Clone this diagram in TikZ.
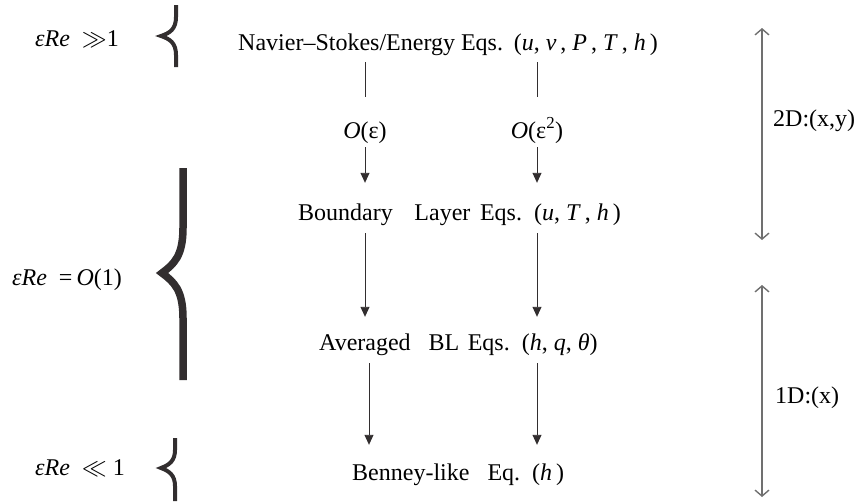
\documentclass[tikz,border=0pt]{standalone}
\usepackage{fontspec}
\setmainfont{Liberation Serif}
\usepackage{tikz}
\usetikzlibrary{arrows.meta,positioning,calc}
\definecolor{ink}{RGB}{50,46,47}
\definecolor{dimc}{RGB}{112,112,112}
\tikzset{
  eqn/.style={inner sep=0pt,anchor=base west,text height=16pt,text depth=5pt,
    font=\fontsize{24}{28}\selectfont,text=black},
  ord/.style={eqn,anchor=base},
  regime/.style={eqn},
  arr/.style={-{Triangle[length=10pt,width=9pt]},draw=ink,line width=0.9pt},
  seg/.style={draw=ink,line width=0.9pt},
  dim/.style={{Straight Barb[length=6pt,width=14pt,line width=1.4pt]}-{Straight Barb[length=6pt,width=14pt,line width=1.4pt]},
    draw=dimc,line width=1.4pt},
  brace/.style={draw=ink,line join=miter,line cap=butt},
}
\newcommand{\vi}[1]{\textit{#1}}
\begin{document}
\begin{tikzpicture}[x=1pt,y=-1pt]
  \useasboundingbox (0,0) rectangle (856,501);
  % equation levels
  \node[eqn] (NS) at (238,50)
    {Navier–Stokes/Energy Eqs.\hspace{0.45em}(\vi{u}, \vi{v}\,, \vi{P}\,, \vi{T}\,, \vi{h}\,)};
  \node[ord] (oeA) at (365,138) {\vi{O}(ε)};
  \node[ord] (oeB) at (537,138) {\vi{O}(ε\textsuperscript{2})};
  \node[eqn] (BL) at (298,220)
    {Boundary\hspace{0.9em}Layer\hspace{0.4em}Eqs.\hspace{0.5em}(\vi{u}, \vi{T}\,, \vi{h}\,)};
  \node[eqn] (ABL) at (319,350)
    {Averaged\hspace{0.75em}BL\hspace{0.35em}Eqs.\hspace{0.5em}(\vi{h}, \vi{q}, \vi{θ})};
  \node[eqn] (BEN) at (352,480) {Benney-like\hspace{0.75em}Eq.\hspace{0.5em}(\vi{h}\,)};
  % regimes
  \node[regime] (r1) at (35,46) {\vi{εRe}\ \ $\gg$1};
  \node[regime] (r2) at (12,285) {\vi{εRe}\ \ =\,\vi{O}(1)};
  \node[regime] (r3) at (35,475) {\vi{εRe}\ \ $\ll$ 1};
  % connectors
  \draw[seg,shorten <=7pt,shorten >=25pt] (NS.south -| oeA) -- (oeA.north);
  \draw[seg,shorten <=7pt,shorten >=25pt] (NS.south -| oeB) -- (oeB.north);
  \draw[arr,shorten <=4pt,shorten >=21pt] (oeA.south) -- (oeA |- BL.north);
  \draw[arr,shorten <=4pt,shorten >=21pt] (oeB.south) -- (oeB |- BL.north);
  \draw[arr,shorten <=8pt,shorten >=17pt] (BL.south -| oeA) -- (ABL.north -| oeA);
  \draw[arr,shorten <=8pt,shorten >=17pt] (BL.south -| oeB) -- (ABL.north -| oeB);
  \draw[arr,shorten <=8pt,shorten >=19pt] ([xshift=4pt]ABL.south -| oeA) -- ([xshift=4pt]BEN.north -| oeA);
  \draw[arr,shorten <=8pt,shorten >=19pt] (ABL.south -| oeB) -- (BEN.north -| oeB);
  % braces
  \draw[brace,line width=4pt] (176,5) -- (176,17) .. controls (176,29) and (170,33) .. (161,36)
    .. controls (170,39) and (176,43) .. (176,55) -- (176,67);
  \draw[brace,line width=7.5pt] (183,168) -- (183,228) .. controls (183,256) and (174,264) .. (162,273)
    .. controls (174,282) and (183,290) .. (183,318) -- (183,380);
  \draw[brace,line width=4pt] (175,438) -- (175,450) .. controls (175,461) and (169,465) .. (161,468)
    .. controls (169,471) and (175,475) .. (175,486) -- (175,501);
  % dimension ranges
  \coordinate (t2) at (762,28);
  \coordinate (b2) at (762,240);
  \coordinate (t1) at (762,285);
  \coordinate (b1) at (762,497);
  \draw[dim] (t2) -- (b2);
  \draw[dim] (t1) -- (b1);
  \node[eqn] (lab2) at (773,126) {2D:(x,y)};
  \node[eqn] (lab1) at (775,403) {1D:(x)};
\end{tikzpicture}
\end{document}
